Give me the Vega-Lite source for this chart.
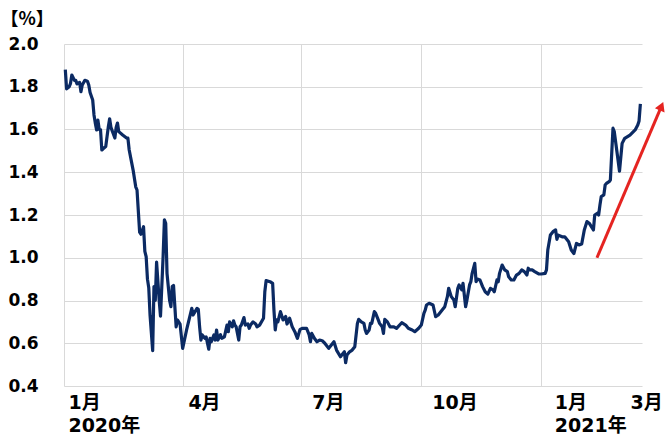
{
  "$schema": "https://vega.github.io/schema/vega-lite/v6.json",
  "width": 578,
  "height": 342,
  "autosize": {"type": "none"},
  "padding": {"left": 64, "top": 44, "right": 26, "bottom": 54},
  "background": "white",
  "config": {
    "view": {"stroke": null},
    "font": "DejaVu Sans, Noto Sans CJK JP",
    "axis": {"labelFont": "DejaVu Sans, Noto Sans CJK JP", "titleFont": "Noto Sans CJK JP"}
  },
  "datasets": {
    "yield": [
      {"date": "2020-01-02T00:00:00", "v": 1.88}, {"date": "2020-01-03T00:00:00", "v": 1.79}, {"date": "2020-01-05T00:00:00", "v": 1.80}, {"date": "2020-01-06T00:00:00", "v": 1.816}, {"date": "2020-01-07T00:00:00", "v": 1.855}, {"date": "2020-01-09T00:00:00", "v": 1.83}, {"date": "2020-01-10T00:00:00", "v": 1.83}, {"date": "2020-01-11T00:00:00", "v": 1.813}, {"date": "2020-01-13T00:00:00", "v": 1.82}, {"date": "2020-01-14T00:00:00", "v": 1.777}, {"date": "2020-01-15T00:00:00", "v": 1.808}, {"date": "2020-01-17T00:00:00", "v": 1.83}, {"date": "2020-01-19T00:00:00", "v": 1.826}, {"date": "2020-01-20T00:00:00", "v": 1.808}, {"date": "2020-01-21T00:00:00", "v": 1.773}, {"date": "2020-01-23T00:00:00", "v": 1.738}, {"date": "2020-01-24T00:00:00", "v": 1.668}, {"date": "2020-01-25T00:00:00", "v": 1.63}, {"date": "2020-01-26T00:00:00", "v": 1.598}, {"date": "2020-01-27T00:00:00", "v": 1.644}, {"date": "2020-01-28T00:00:00", "v": 1.60}, {"date": "2020-01-29T00:00:00", "v": 1.60}, {"date": "2020-01-30T00:00:00", "v": 1.504}, {"date": "2020-01-31T00:00:00", "v": 1.51},
      {"date": "2020-02-02T00:00:00", "v": 1.52}, {"date": "2020-02-04T00:00:00", "v": 1.613}, {"date": "2020-02-05T00:00:00", "v": 1.65}, {"date": "2020-02-06T00:00:00", "v": 1.61}, {"date": "2020-02-09T00:00:00", "v": 1.56}, {"date": "2020-02-10T00:00:00", "v": 1.61}, {"date": "2020-02-11T00:00:00", "v": 1.63}, {"date": "2020-02-12T00:00:00", "v": 1.59}, {"date": "2020-02-15T00:00:00", "v": 1.574}, {"date": "2020-02-18T00:00:00", "v": 1.56}, {"date": "2020-02-19T00:00:00", "v": 1.56}, {"date": "2020-02-20T00:00:00", "v": 1.504}, {"date": "2020-02-23T00:00:00", "v": 1.41}, {"date": "2020-02-25T00:00:00", "v": 1.332}, {"date": "2020-02-26T00:00:00", "v": 1.317}, {"date": "2020-02-28T00:00:00", "v": 1.12}, {"date": "2020-02-29T00:00:00", "v": 1.11},
      {"date": "2020-03-02T00:00:00", "v": 1.145}, {"date": "2020-03-03T00:00:00", "v": 1.03}, {"date": "2020-03-04T00:00:00", "v": 1.005}, {"date": "2020-03-05T00:00:00", "v": 0.90}, {"date": "2020-03-06T00:00:00", "v": 0.86}, {"date": "2020-03-07T00:00:00", "v": 0.73}, {"date": "2020-03-09T00:00:00", "v": 0.565}, {"date": "2020-03-10T00:00:00", "v": 0.865}, {"date": "2020-03-11T00:00:00", "v": 0.80}, {"date": "2020-03-12T00:00:00", "v": 0.98}, {"date": "2020-03-14T00:00:00", "v": 0.80}, {"date": "2020-03-15T00:00:00", "v": 0.727}, {"date": "2020-03-17T00:00:00", "v": 1.005}, {"date": "2020-03-18T00:00:00", "v": 1.177}, {"date": "2020-03-19T00:00:00", "v": 1.161}, {"date": "2020-03-20T00:00:00", "v": 0.927}, {"date": "2020-03-22T00:00:00", "v": 0.80}, {"date": "2020-03-23T00:00:00", "v": 0.771}, {"date": "2020-03-24T00:00:00", "v": 0.865}, {"date": "2020-03-25T00:00:00", "v": 0.87}, {"date": "2020-03-27T00:00:00", "v": 0.677}, {"date": "2020-03-28T00:00:00", "v": 0.709}, {"date": "2020-03-30T00:00:00", "v": 0.69},
      {"date": "2020-04-01T00:00:00", "v": 0.576}, {"date": "2020-04-04T00:00:00", "v": 0.662}, {"date": "2020-04-08T00:00:00", "v": 0.763}, {"date": "2020-04-09T00:00:00", "v": 0.732}, {"date": "2020-04-12T00:00:00", "v": 0.763}, {"date": "2020-04-13T00:00:00", "v": 0.759}, {"date": "2020-04-14T00:00:00", "v": 0.677}, {"date": "2020-04-15T00:00:00", "v": 0.615}, {"date": "2020-04-16T00:00:00", "v": 0.639}, {"date": "2020-04-18T00:00:00", "v": 0.623}, {"date": "2020-04-19T00:00:00", "v": 0.63}, {"date": "2020-04-21T00:00:00", "v": 0.572}, {"date": "2020-04-22T00:00:00", "v": 0.623}, {"date": "2020-04-23T00:00:00", "v": 0.607}, {"date": "2020-04-25T00:00:00", "v": 0.639}, {"date": "2020-04-26T00:00:00", "v": 0.615}, {"date": "2020-04-27T00:00:00", "v": 0.662}, {"date": "2020-04-28T00:00:00", "v": 0.615}, {"date": "2020-04-30T00:00:00", "v": 0.64},
      {"date": "2020-05-01T00:00:00", "v": 0.623}, {"date": "2020-05-03T00:00:00", "v": 0.63}, {"date": "2020-05-05T00:00:00", "v": 0.685}, {"date": "2020-05-06T00:00:00", "v": 0.654}, {"date": "2020-05-07T00:00:00", "v": 0.70}, {"date": "2020-05-09T00:00:00", "v": 0.677}, {"date": "2020-05-10T00:00:00", "v": 0.705}, {"date": "2020-05-11T00:00:00", "v": 0.685}, {"date": "2020-05-12T00:00:00", "v": 0.677}, {"date": "2020-05-14T00:00:00", "v": 0.615}, {"date": "2020-05-15T00:00:00", "v": 0.677}, {"date": "2020-05-16T00:00:00", "v": 0.685}, {"date": "2020-05-18T00:00:00", "v": 0.72}, {"date": "2020-05-19T00:00:00", "v": 0.685}, {"date": "2020-05-21T00:00:00", "v": 0.69}, {"date": "2020-05-22T00:00:00", "v": 0.67}, {"date": "2020-05-23T00:00:00", "v": 0.685}, {"date": "2020-05-25T00:00:00", "v": 0.70}, {"date": "2020-05-27T00:00:00", "v": 0.69}, {"date": "2020-05-28T00:00:00", "v": 0.677}, {"date": "2020-05-30T00:00:00", "v": 0.685},
      {"date": "2020-06-02T00:00:00", "v": 0.717}, {"date": "2020-06-03T00:00:00", "v": 0.841}, {"date": "2020-06-04T00:00:00", "v": 0.893}, {"date": "2020-06-07T00:00:00", "v": 0.888}, {"date": "2020-06-09T00:00:00", "v": 0.88}, {"date": "2020-06-10T00:00:00", "v": 0.755}, {"date": "2020-06-11T00:00:00", "v": 0.662}, {"date": "2020-06-12T00:00:00", "v": 0.709}, {"date": "2020-06-13T00:00:00", "v": 0.70}, {"date": "2020-06-15T00:00:00", "v": 0.748}, {"date": "2020-06-17T00:00:00", "v": 0.709}, {"date": "2020-06-19T00:00:00", "v": 0.725}, {"date": "2020-06-20T00:00:00", "v": 0.69}, {"date": "2020-06-22T00:00:00", "v": 0.717}, {"date": "2020-06-24T00:00:00", "v": 0.677}, {"date": "2020-06-26T00:00:00", "v": 0.654}, {"date": "2020-06-28T00:00:00", "v": 0.623}, {"date": "2020-06-30T00:00:00", "v": 0.665},
      {"date": "2020-07-02T00:00:00", "v": 0.67}, {"date": "2020-07-05T00:00:00", "v": 0.67}, {"date": "2020-07-07T00:00:00", "v": 0.639}, {"date": "2020-07-08T00:00:00", "v": 0.607}, {"date": "2020-07-09T00:00:00", "v": 0.646}, {"date": "2020-07-11T00:00:00", "v": 0.623}, {"date": "2020-07-13T00:00:00", "v": 0.607}, {"date": "2020-07-15T00:00:00", "v": 0.615}, {"date": "2020-07-17T00:00:00", "v": 0.612}, {"date": "2020-07-19T00:00:00", "v": 0.60}, {"date": "2020-07-22T00:00:00", "v": 0.576}, {"date": "2020-07-24T00:00:00", "v": 0.592}, {"date": "2020-07-26T00:00:00", "v": 0.607}, {"date": "2020-07-28T00:00:00", "v": 0.568}, {"date": "2020-07-31T00:00:00", "v": 0.537},
      {"date": "2020-08-01T00:00:00", "v": 0.545}, {"date": "2020-08-03T00:00:00", "v": 0.56}, {"date": "2020-08-04T00:00:00", "v": 0.509}, {"date": "2020-08-05T00:00:00", "v": 0.545}, {"date": "2020-08-07T00:00:00", "v": 0.56}, {"date": "2020-08-09T00:00:00", "v": 0.568}, {"date": "2020-08-11T00:00:00", "v": 0.584}, {"date": "2020-08-13T00:00:00", "v": 0.693}, {"date": "2020-08-14T00:00:00", "v": 0.712}, {"date": "2020-08-16T00:00:00", "v": 0.70}, {"date": "2020-08-18T00:00:00", "v": 0.693}, {"date": "2020-08-19T00:00:00", "v": 0.662}, {"date": "2020-08-20T00:00:00", "v": 0.646}, {"date": "2020-08-22T00:00:00", "v": 0.662}, {"date": "2020-08-23T00:00:00", "v": 0.693}, {"date": "2020-08-24T00:00:00", "v": 0.693}, {"date": "2020-08-26T00:00:00", "v": 0.748}, {"date": "2020-08-27T00:00:00", "v": 0.74}, {"date": "2020-08-29T00:00:00", "v": 0.709}, {"date": "2020-08-30T00:00:00", "v": 0.693},
      {"date": "2020-09-01T00:00:00", "v": 0.677}, {"date": "2020-09-02T00:00:00", "v": 0.646}, {"date": "2020-09-03T00:00:00", "v": 0.712}, {"date": "2020-09-05T00:00:00", "v": 0.70}, {"date": "2020-09-07T00:00:00", "v": 0.677}, {"date": "2020-09-10T00:00:00", "v": 0.677}, {"date": "2020-09-12T00:00:00", "v": 0.67}, {"date": "2020-09-16T00:00:00", "v": 0.696}, {"date": "2020-09-19T00:00:00", "v": 0.685}, {"date": "2020-09-21T00:00:00", "v": 0.67}, {"date": "2020-09-24T00:00:00", "v": 0.662}, {"date": "2020-09-26T00:00:00", "v": 0.654}, {"date": "2020-09-29T00:00:00", "v": 0.67},
      {"date": "2020-10-01T00:00:00", "v": 0.685}, {"date": "2020-10-03T00:00:00", "v": 0.74}, {"date": "2020-10-04T00:00:00", "v": 0.755}, {"date": "2020-10-05T00:00:00", "v": 0.779}, {"date": "2020-10-07T00:00:00", "v": 0.787}, {"date": "2020-10-10T00:00:00", "v": 0.779}, {"date": "2020-10-12T00:00:00", "v": 0.724}, {"date": "2020-10-14T00:00:00", "v": 0.732}, {"date": "2020-10-17T00:00:00", "v": 0.755}, {"date": "2020-10-19T00:00:00", "v": 0.771}, {"date": "2020-10-21T00:00:00", "v": 0.818}, {"date": "2020-10-22T00:00:00", "v": 0.857}, {"date": "2020-10-24T00:00:00", "v": 0.818}, {"date": "2020-10-26T00:00:00", "v": 0.802}, {"date": "2020-10-27T00:00:00", "v": 0.771}, {"date": "2020-10-29T00:00:00", "v": 0.857}, {"date": "2020-10-30T00:00:00", "v": 0.873},
      {"date": "2020-11-01T00:00:00", "v": 0.85}, {"date": "2020-11-02T00:00:00", "v": 0.88}, {"date": "2020-11-04T00:00:00", "v": 0.771}, {"date": "2020-11-05T00:00:00", "v": 0.802}, {"date": "2020-11-07T00:00:00", "v": 0.873}, {"date": "2020-11-08T00:00:00", "v": 0.888}, {"date": "2020-11-09T00:00:00", "v": 0.927}, {"date": "2020-11-11T00:00:00", "v": 0.974}, {"date": "2020-11-12T00:00:00", "v": 0.888}, {"date": "2020-11-13T00:00:00", "v": 0.90}, {"date": "2020-11-15T00:00:00", "v": 0.896}, {"date": "2020-11-17T00:00:00", "v": 0.865}, {"date": "2020-11-19T00:00:00", "v": 0.841}, {"date": "2020-11-21T00:00:00", "v": 0.83}, {"date": "2020-11-23T00:00:00", "v": 0.857}, {"date": "2020-11-25T00:00:00", "v": 0.85}, {"date": "2020-11-26T00:00:00", "v": 0.841}, {"date": "2020-11-28T00:00:00", "v": 0.896}, {"date": "2020-11-29T00:00:00", "v": 0.888}, {"date": "2020-11-30T00:00:00", "v": 0.927},
      {"date": "2020-12-02T00:00:00", "v": 0.966}, {"date": "2020-12-04T00:00:00", "v": 0.943}, {"date": "2020-12-06T00:00:00", "v": 0.935}, {"date": "2020-12-07T00:00:00", "v": 0.911}, {"date": "2020-12-09T00:00:00", "v": 0.896}, {"date": "2020-12-11T00:00:00", "v": 0.896}, {"date": "2020-12-13T00:00:00", "v": 0.919}, {"date": "2020-12-15T00:00:00", "v": 0.927}, {"date": "2020-12-17T00:00:00", "v": 0.943}, {"date": "2020-12-19T00:00:00", "v": 0.935}, {"date": "2020-12-21T00:00:00", "v": 0.919}, {"date": "2020-12-22T00:00:00", "v": 0.951}, {"date": "2020-12-23T00:00:00", "v": 0.943}, {"date": "2020-12-25T00:00:00", "v": 0.943}, {"date": "2020-12-27T00:00:00", "v": 0.935}, {"date": "2020-12-30T00:00:00", "v": 0.924},
      {"date": "2021-01-01T00:00:00", "v": 0.924}, {"date": "2021-01-04T00:00:00", "v": 0.927}, {"date": "2021-01-05T00:00:00", "v": 0.943}, {"date": "2021-01-06T00:00:00", "v": 1.036}, {"date": "2021-01-08T00:00:00", "v": 1.106}, {"date": "2021-01-10T00:00:00", "v": 1.122}, {"date": "2021-01-12T00:00:00", "v": 1.13}, {"date": "2021-01-13T00:00:00", "v": 1.086}, {"date": "2021-01-14T00:00:00", "v": 1.106}, {"date": "2021-01-17T00:00:00", "v": 1.098}, {"date": "2021-01-19T00:00:00", "v": 1.098}, {"date": "2021-01-22T00:00:00", "v": 1.075}, {"date": "2021-01-24T00:00:00", "v": 1.036}, {"date": "2021-01-26T00:00:00", "v": 1.02}, {"date": "2021-01-28T00:00:00", "v": 1.067}, {"date": "2021-01-30T00:00:00", "v": 1.06},
      {"date": "2021-02-01T00:00:00", "v": 1.064}, {"date": "2021-02-03T00:00:00", "v": 1.13}, {"date": "2021-02-05T00:00:00", "v": 1.169}, {"date": "2021-02-07T00:00:00", "v": 1.16}, {"date": "2021-02-10T00:00:00", "v": 1.13}, {"date": "2021-02-11T00:00:00", "v": 1.20}, {"date": "2021-02-13T00:00:00", "v": 1.208}, {"date": "2021-02-14T00:00:00", "v": 1.20}, {"date": "2021-02-15T00:00:00", "v": 1.247}, {"date": "2021-02-16T00:00:00", "v": 1.286}, {"date": "2021-02-18T00:00:00", "v": 1.294}, {"date": "2021-02-19T00:00:00", "v": 1.34}, {"date": "2021-02-20T00:00:00", "v": 1.348}, {"date": "2021-02-22T00:00:00", "v": 1.356}, {"date": "2021-02-23T00:00:00", "v": 1.364}, {"date": "2021-02-25T00:00:00", "v": 1.606}, {"date": "2021-02-26T00:00:00", "v": 1.59},
      {"date": "2021-03-02T00:00:00", "v": 1.405}, {"date": "2021-03-04T00:00:00", "v": 1.535}, {"date": "2021-03-06T00:00:00", "v": 1.559}, {"date": "2021-03-10T00:00:00", "v": 1.574}, {"date": "2021-03-14T00:00:00", "v": 1.598}, {"date": "2021-03-16T00:00:00", "v": 1.621}, {"date": "2021-03-17T00:00:00", "v": 1.64}, {"date": "2021-03-18T00:00:00", "v": 1.72}
    ],
    "arrow": [
      {"date": "2021-02-12T17:00:00", "v": 1.0, "date2": "2021-04-03T05:00:00", "v2": 1.709}
    ]
  },
  "layer": [
    {
      "data": {"name": "yield"},
      "mark": {"type": "line", "color": "#0b2a63", "strokeWidth": 3.2, "strokeJoin": "round"},
      "encoding": {
        "x": {
          "field": "date", "type": "temporal",
          "scale": {"domain": [{"year": 2020, "month": 1, "date": 1}, {"year": 2021, "month": 3, "date": 19, "hours": 6}]},
          "axis": {
            "orient": "top", "title": null, "labels": false, "ticks": false, "domain": false,
            "grid": true, "gridColor": "#d9d9d9", "gridWidth": 1,
            "values": [{"year": 2020, "month": 1, "date": 1}, {"year": 2020, "month": 4, "date": 1}, {"year": 2020, "month": 7, "date": 1}, {"year": 2020, "month": 10, "date": 1}, {"year": 2021, "month": 1, "date": 1}]
          }
        },
        "y": {
          "field": "v", "type": "quantitative",
          "scale": {"domain": [0.4, 2.0], "nice": false, "zero": false},
          "axis": {
            "values": [0.4, 0.6, 0.8, 1.0, 1.2, 1.4, 1.6, 1.8, 2.0], "format": ".1f",
            "grid": true, "gridColor": "#d9d9d9", "gridWidth": 1, "ticks": false, "domain": false,
            "labelFontSize": 17, "labelFontWeight": "bold", "labelColor": "#000000", "labelPadding": 26,
            "title": "【%】", "titleAngle": 0, "titleAlign": "left", "titleBaseline": "middle",
            "titleX": -64, "titleY": -25, "titleFontSize": 18, "titleFontWeight": "bold", "titleColor": "#000000"
          }
        }
      }
    },
    {
      "data": {"name": "arrow"},
      "mark": {"type": "rule", "color": "#e52421", "strokeWidth": 3},
      "encoding": {
        "x": {
          "field": "date", "type": "temporal",
          "axis": {
            "orient": "bottom", "title": null, "grid": false, "ticks": false, "domain": false,
            "values": [{"year": 2020, "month": 1, "date": 4}, {"year": 2020, "month": 4, "date": 5}, {"year": 2020, "month": 7, "date": 9}, {"year": 2020, "month": 10, "date": 9}, {"year": 2021, "month": 1, "date": 11}, {"year": 2021, "month": 3, "date": 10}],
            "labelExpr": "month(datum.value) == 0 ? ['1月', year(datum.value) + '年'] : (month(datum.value) + 1) + '月'",
            "labelAlign": "left", "labelBaseline": "top", "labelLineHeight": 23,
            "labelFontSize": 19, "labelFontWeight": "bold", "labelColor": "#000000", "labelPadding": 7,
            "labelOverlap": false, "labelFlush": false
          }
        },
        "x2": {"field": "date2"},
        "y": {"field": "v", "type": "quantitative"},
        "y2": {"field": "v2"}
      }
    },
    {
      "data": {"name": "arrow"},
      "mark": {"type": "point", "shape": "triangle-up", "filled": true, "color": "#e52421", "opacity": 1, "size": 110, "angle": 23},
      "encoding": {
        "x": {"field": "date2", "type": "temporal", "axis": null},
        "y": {"field": "v2", "type": "quantitative"}
      }
    }
  ],
  "resolve": {"axis": {"x": "independent"}}
}
